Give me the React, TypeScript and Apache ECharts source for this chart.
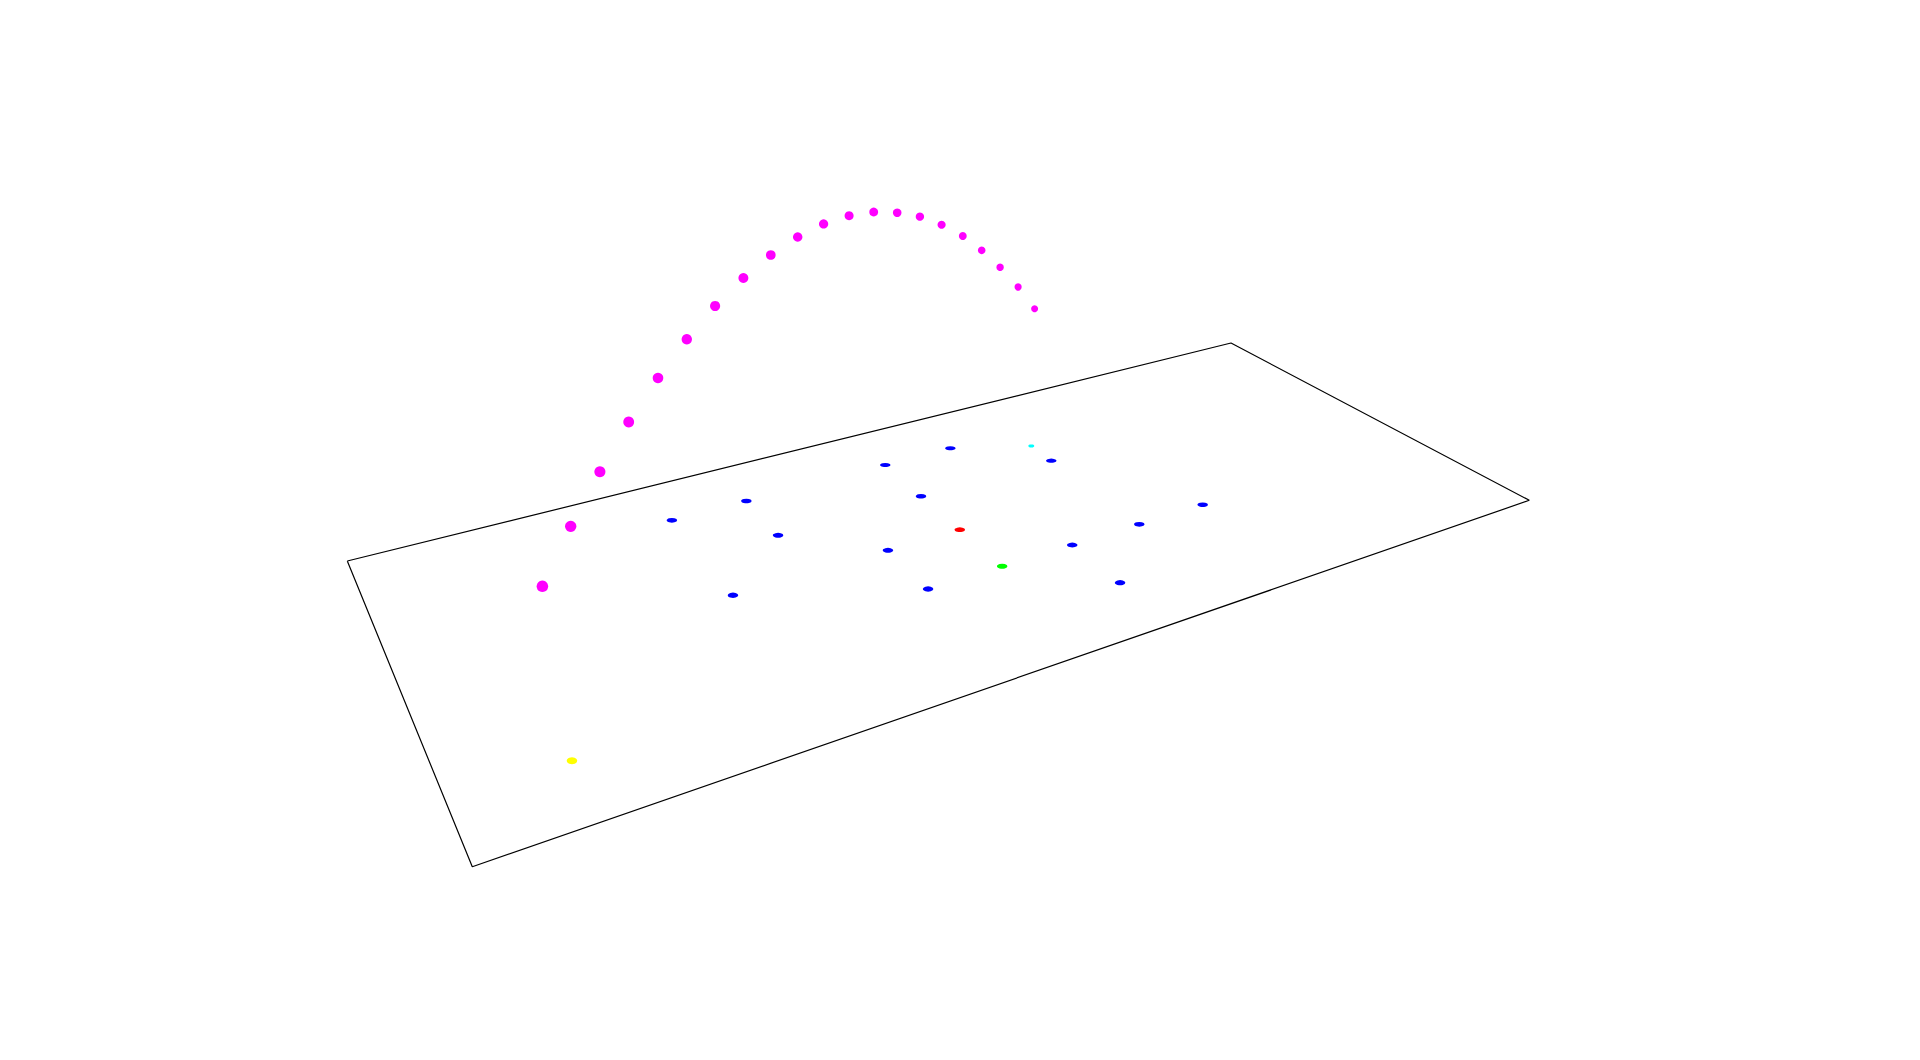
import React, { useEffect, useRef } from "react";
import * as echarts from "echarts";

// Projected view coordinates (horizontal, vertical).
const fieldX = [347.3, 1231, 1529.3, 472.3, 347.3];
const fieldY = [561, 343, 500.3, 866.7, 561];

const playerX = [950.4, 885.3, 1051.3, 921, 746.4, 671.9, 778.1, 888, 1202.7, 1139.3, 1072.3, 733, 928.1, 1120.1];
const playerY = [448.3, 465, 460.7, 496.3, 501, 520.3, 535.3, 550.3, 504.7, 524.3, 545, 595.3, 589, 582.7];

const markerNames = ["red", "green", "cyan", "yellow"];
const markerX = [959.8, 1002.2, 1031.3, 572];
const markerY = [529.7, 566.3, 446, 760.7];
const markerColors = ["#ff0000", "#00ff00", "#00ffff", "#ffff00"];

const ballX = [542.4, 570.7, 599.9, 628.7, 658, 686.8, 715.1, 743.4, 770.8, 797.7, 823.6, 849.1, 873.7, 897.2, 919.9, 941.6, 962.8, 981.7, 1000.1, 1018.1, 1034.6];
const ballY = [586.3, 526.3, 471.7, 422, 378, 339.3, 306, 278, 255, 237, 224, 215.7, 212, 212.7, 216.7, 224.7, 236, 250.3, 267.3, 287, 308.7];

const W = 1920;
const H = 1060;

function groundSize(y: number, small = false): number[] {
  const h = 4 + Math.max(0, y - 445) * 0.009;
  return [small ? 6 : 10.5, small ? 3.2 : h];
}

export default function App() {
  const ref = useRef<HTMLDivElement>(null);

  useEffect(() => {
    if (!ref.current) return;
    const chart = echarts.init(ref.current, null, { renderer: "svg" });
    const zip = (xs: number[], ys: number[]) => xs.map((x, i) => [x, ys[i]]);
    const n = ballX.length;
    chart.setOption({
      animation: false,
      backgroundColor: "#ffffff",
      grid: { left: 0, right: 0, top: 0, bottom: 0 },
      xAxis: { type: "value", min: 0, max: W, show: false },
      yAxis: { type: "value", min: 0, max: H, inverse: true, show: false },
      series: [
        {
          type: "line",
          data: zip(fieldX, fieldY),
          symbol: "none",
          lineStyle: { color: "#000000", width: 1.2 },
          z: 1,
        },
        {
          type: "scatter",
          data: zip(playerX, playerY),
          symbol: "circle",
          symbolSize: (v: number[]) => groundSize(v[1]),
          itemStyle: { color: "#0000ff", opacity: 1 },
          z: 2,
        },
        {
          type: "scatter",
          data: markerX.map((x, i) => ({
            name: markerNames[i],
            value: [x, markerY[i]],
            itemStyle: { color: markerColors[i] },
            symbolSize: groundSize(markerY[i], markerNames[i] === "cyan"),
          })),
          symbol: "circle",
          itemStyle: { opacity: 1 },
          z: 2,
        },
        {
          type: "scatter",
          data: zip(ballX, ballY),
          symbol: "circle",
          symbolSize: (_v: number[], p: any) => 11.5 - (4.5 * p.dataIndex) / (n - 1),
          itemStyle: { color: "#ff00ff", opacity: 1 },
          z: 3,
        },
      ],
    });
    return () => chart.dispose();
  }, []);

  return (
    <div
      ref={ref}
      style={{ position: "fixed", left: 0, top: 0, width: W, height: H, background: "#fff" }}
    />
  );
}
